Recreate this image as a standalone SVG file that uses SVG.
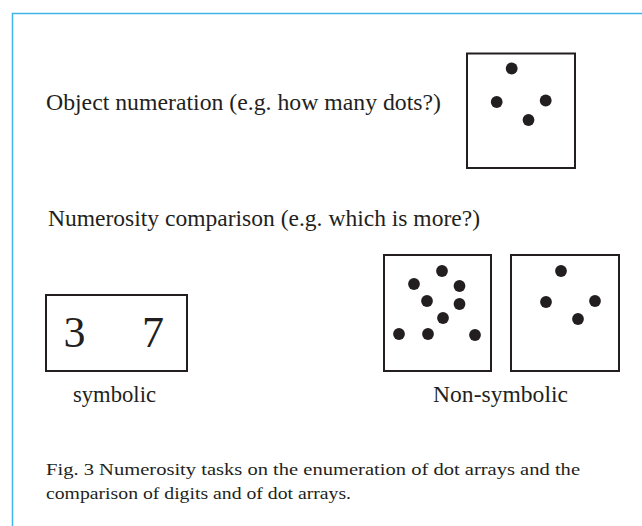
<svg xmlns="http://www.w3.org/2000/svg" width="642" height="526" viewBox="0 0 642 526">
<style>
.t{font-family:"Liberation Serif","Times New Roman",serif;fill:#231f20;}
.lbl{font-size:23px;}
.cap{font-size:17.5px;}
.dig{font-size:44px;}
.box{fill:#ffffff;stroke:#231f20;stroke-width:2;}
.dot{fill:#231f20;}
.frame{fill:none;stroke:#3fb4e8;stroke-width:1.5;}
</style>
<defs>
<circle id="d" r="5.9" class="dot"/>
</defs>
<rect width="642" height="526" fill="#ffffff"/>
<path class="frame" d="M12.5,526 V13.5 H642"/>
<g id="connectors"/>
<g id="object-numeration">
<text class="t lbl" x="46" y="110" textLength="395" lengthAdjust="spacingAndGlyphs">Object numeration (e.g. how many dots?)</text>
</g>
<g id="box-object">
<rect class="box" x="467" y="53.5" width="108" height="114.5"/>
<use href="#d" x="511.7" y="68.5"/>
<use href="#d" x="496.7" y="102"/>
<use href="#d" x="545.7" y="100.5"/>
<use href="#d" x="528.5" y="120"/>
</g>
<g id="numerosity-comparison">
<text class="t lbl" x="48" y="226" textLength="432" lengthAdjust="spacingAndGlyphs">Numerosity comparison (e.g. which is more?)</text>
</g>
<g id="box-symbolic">
<rect class="box" x="46" y="295" width="141" height="76"/>
<text class="t dig" x="63.5" y="347">3</text>
<text class="t dig" x="142" y="347">7</text>
</g>
<g id="label-symbolic">
<text class="t lbl" x="73" y="402" textLength="83" lengthAdjust="spacingAndGlyphs">symbolic</text>
</g>
<g id="box-nonsymbolic-9">
<rect class="box" x="384" y="255" width="107" height="116"/>
<use href="#d" x="442" y="271"/>
<use href="#d" x="414" y="284"/>
<use href="#d" x="459.5" y="286"/>
<use href="#d" x="427" y="301"/>
<use href="#d" x="459.5" y="304"/>
<use href="#d" x="443" y="318"/>
<use href="#d" x="399" y="334"/>
<use href="#d" x="428" y="334"/>
<use href="#d" x="475" y="335"/>
</g>
<g id="box-nonsymbolic-4">
<rect class="box" x="511" y="255" width="108" height="116"/>
<use href="#d" x="561" y="271"/>
<use href="#d" x="546" y="302"/>
<use href="#d" x="595" y="301"/>
<use href="#d" x="578" y="319"/>
</g>
<g id="label-nonsymbolic">
<text class="t lbl" x="433" y="402" textLength="135" lengthAdjust="spacingAndGlyphs">Non-symbolic</text>
</g>
<g id="caption">
<text class="t cap" x="46" y="475" textLength="534" lengthAdjust="spacingAndGlyphs">Fig. 3 Numerosity tasks on the enumeration of dot arrays and the</text>
<text class="t cap" x="46" y="499" textLength="305" lengthAdjust="spacingAndGlyphs">comparison of digits and of dot arrays.</text>
</g>
</svg>
